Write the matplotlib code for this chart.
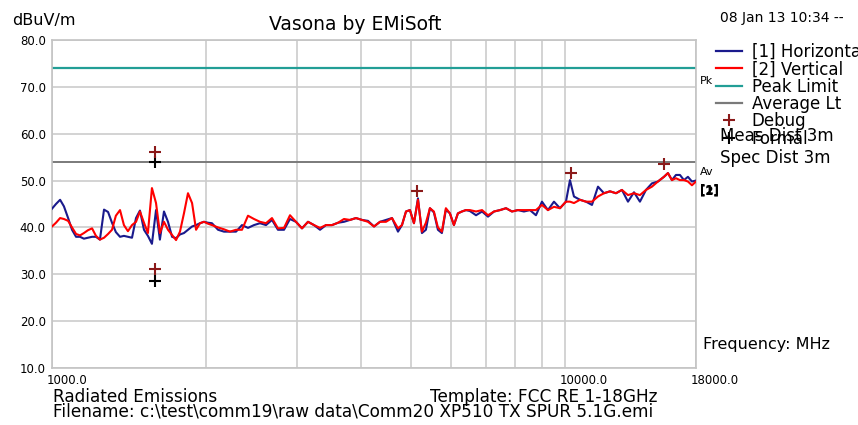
import matplotlib
matplotlib.use("Agg")
import matplotlib.pyplot as plt
from matplotlib.lines import Line2D
import matplotlib.transforms as mtransforms

# ---------------- data ----------------
freq_mhz = [1000, 1018, 1037, 1055, 1075, 1094, 1114, 1134, 1154, 1175, 1197, 1218, 1240,
            1263, 1286, 1309, 1332, 1357, 1381, 1406, 1432, 1458, 1484, 1511, 1538, 1566,
            1595, 1623, 1653, 1683, 1714, 1745, 1776, 1808, 1841, 1875, 1909, 1943, 1978,
            2014, 2050, 2107, 2164, 2223, 2284, 2346, 2410, 2476, 2543, 2613, 2684, 2757,
            2833, 2910, 2989, 3071, 3155, 3241, 3330, 3420, 3514, 3610, 3708, 3809, 3913,
            4020, 4130, 4243, 4358, 4477, 4600, 4725, 4810, 4898, 4985, 5076, 5168, 5261,
            5356, 5453, 5551, 5652, 5754, 5858, 5965, 6073, 6183, 6295, 6409, 6525, 6707,
            6890, 7077, 7271, 7469, 7673, 7880, 8093, 8316, 8543, 8776, 9016, 9262, 9515,
            9775, 10041, 10224, 10409, 10693, 10985, 11285, 11594, 11910, 12235, 12570,
            12910, 13265, 13627, 13996, 14380, 14770, 15174, 15589, 15870, 16158, 16450,
            16749, 17052, 17360, 17675, 18000]

horizontal_dbuv = [44.0, 45.0, 45.9, 44.5, 42.0, 39.5, 38.0, 38.0, 37.6, 37.8, 38.0, 38.0, 37.4,
                   43.8, 43.3, 41.0, 39.0, 38.0, 38.2, 38.0, 37.8, 42.0, 43.6, 39.5, 38.2, 36.5,
                   43.7, 37.4, 43.4, 41.2, 38.0, 37.7, 38.5, 38.8, 39.5, 40.2, 40.5, 40.9, 41.2,
                   41.0, 40.9, 39.5, 39.1, 39.1, 39.1, 40.5, 39.9, 40.5, 40.9, 40.5, 41.6, 39.5,
                   39.5, 41.8, 41.2, 39.8, 41.2, 40.5, 39.5, 40.5, 40.5, 41.0, 41.2, 41.6, 42.0,
                   41.6, 41.4, 40.2, 41.2, 41.6, 42.0, 39.1, 40.5, 43.4, 43.7, 40.9, 46.2, 38.8,
                   39.5, 44.1, 43.2, 39.5, 38.8, 43.8, 43.0, 40.5, 43.0, 43.4, 43.7, 43.5, 42.6,
                   43.4, 42.3, 43.4, 43.7, 44.1, 43.4, 43.7, 43.4, 43.7, 42.6, 45.5, 43.7, 45.5,
                   44.1, 45.5, 50.1, 46.6, 45.9, 45.5, 44.8, 48.7, 47.3, 47.7, 47.3, 48.0, 45.5,
                   47.5, 45.5, 48.0, 49.4, 49.8, 50.8, 51.6, 50.1, 51.2, 51.2, 50.1, 50.8, 49.8,
                   50.0]

vertical_dbuv = [40.2, 41.0, 42.0, 41.8, 41.4, 40.0, 38.6, 38.3, 38.8, 39.4, 39.8, 38.2, 37.4,
                 37.8, 38.6, 39.5, 42.5, 43.7, 40.5, 39.2, 40.5, 41.2, 43.4, 41.0, 38.8, 48.4,
                 45.2, 38.8, 41.2, 39.5, 38.4, 37.3, 39.1, 43.0, 47.3, 45.2, 39.5, 40.9, 41.2,
                 40.8, 40.5, 40.0, 39.6, 39.1, 39.5, 39.5, 42.5, 41.8, 41.2, 40.9, 42.0, 39.8,
                 39.9, 42.6, 41.2, 39.8, 41.2, 40.5, 39.9, 40.5, 40.5, 41.0, 41.8, 41.6, 42.0,
                 41.6, 41.2, 40.2, 41.2, 41.2, 42.0, 39.8, 40.5, 43.4, 43.7, 40.9, 45.9, 39.1,
                 41.0, 44.1, 43.4, 40.0, 39.1, 44.1, 43.0, 40.5, 43.0, 43.4, 43.7, 43.7, 43.4,
                 43.7, 42.6, 43.4, 43.7, 44.1, 43.4, 43.7, 43.7, 43.7, 43.7, 44.8, 43.7, 44.4,
                 44.1, 45.5, 45.5, 45.2, 45.9, 45.5, 45.5, 46.6, 47.3, 47.7, 47.3, 48.0, 46.9,
                 47.3, 46.9, 48.0, 48.7, 49.8, 50.8, 51.6, 50.1, 50.5, 50.1, 50.1, 49.8, 49.0,
                 49.8]

peak_limit = 74.0
average_limit = 54.0

debug_freq = [1588, 1588, 5150, 10280, 15620]
debug_dbuv = [56.2, 31.1, 47.8, 51.7, 53.5]
formal_freq = [1588, 1588]
formal_dbuv = [53.9, 28.6]

y_ticks = [10, 20, 30, 40, 50, 60, 70, 80]
y_tick_labels = ["10.0", "20.0", "30.0", "40.0", "50.0", "60.0", "70.0", "80.0"]
x_ticks = [1000, 2000, 3000, 4000, 5000, 6000, 7000, 8000, 9000, 10000, 18000]
x_tick_labels = ["1000.0", "", "", "", "", "", "", "", "", "10000.0", "18000.0"]

legend_labels = ["[1] Horizontal", "[2] Vertical", "Peak Limit", "Average Lt", "Debug", "Formal"]

# ---------------- colours ----------------
C_BLUE = "#1a1a8c"
C_RED = "#ff0000"
C_TEAL = "#229e96"
C_AVG = "#7a7a7a"
C_DEBUG = "#8b1a1a"
C_FORMAL = "#000000"
C_GRID = "#cccccc"

plt.rcParams["font.family"] = ["DejaVu Sans"]

W, H = 858, 425
fig = plt.figure(figsize=(W / 100, H / 100), dpi=100)
L, R, T, B = 52, 696, 40, 368
ax = fig.add_axes([L / W, 1 - B / H, (R - L) / W, (B - T) / H])

ax.set_xscale("log")
ax.set_xlim(1000, 18000)
ax.set_ylim(10, 80)
ax.set_xticks(x_ticks)
ax.set_xticklabels(x_tick_labels)
ax.xaxis.set_minor_locator(matplotlib.ticker.NullLocator())
ax.set_yticks(y_ticks)
ax.set_yticklabels(y_tick_labels)
ax.tick_params(axis="both", length=0, labelsize=8.5)
ax.tick_params(axis="y", pad=4.5)
ax.tick_params(axis="x", pad=4)
for lab in ax.get_xticklabels():
    lab.set_horizontalalignment("left")
    lab.set_transform(lab.get_transform() +
                      mtransforms.ScaledTranslation(-5 / 100, 0, fig.dpi_scale_trans))

ax.grid(True, color=C_GRID, linewidth=1.2)
ax.set_axisbelow(True)
for s in ax.spines.values():
    s.set_color("#c4c4c4")
    s.set_linewidth(1.2)

ax.axhline(peak_limit, color=C_TEAL, linewidth=1.6, zorder=2)
ax.axhline(average_limit, color=C_AVG, linewidth=1.4, zorder=2)

ax.plot(freq_mhz, horizontal_dbuv, color=C_BLUE, linewidth=1.5, zorder=3)
ax.plot(freq_mhz, vertical_dbuv, color=C_RED, linewidth=1.5, zorder=4)

ax.plot(formal_freq, formal_dbuv, linestyle="none", marker="+", markersize=9,
        markeredgewidth=1.5, color=C_FORMAL, zorder=5, clip_on=False)
ax.plot(debug_freq, debug_dbuv, linestyle="none", marker="+", markersize=9,
        markeredgewidth=1.5, color=C_DEBUG, zorder=6, clip_on=False)


def fx(px):
    return px / W


def fy(py):
    return 1 - py / H


# labels at the right edge of the plot
fig.text(fx(700), fy(81), "Pk", fontsize=8, va="center", ha="left")
fig.text(fx(700), fy(172), "Av", fontsize=8, va="center", ha="left")
fig.text(fx(700), fy(190), "[1]", fontsize=8.5, va="center", ha="left", fontweight="bold")
fig.text(fx(700), fy(191), "[2]", fontsize=8.5, va="center", ha="left", fontweight="bold")

# legend
handles = [
    Line2D([], [], color=C_BLUE, linewidth=1.6),
    Line2D([], [], color=C_RED, linewidth=1.6),
    Line2D([], [], color=C_TEAL, linewidth=1.6),
    Line2D([], [], color=C_AVG, linewidth=1.6),
    Line2D([], [], color=C_DEBUG, linestyle="none", marker="+", markersize=9, markeredgewidth=1.5),
    Line2D([], [], color=C_FORMAL, linestyle="none", marker="+", markersize=9, markeredgewidth=1.5),
]
fig.legend(handles, legend_labels, loc="upper left", bbox_to_anchor=(fx(716), fy(43)),
           frameon=False, fontsize=12, handlelength=1.55, handletextpad=0.6,
           borderpad=0, borderaxespad=0, labelspacing=-0.04)

fig.text(fx(720), fy(136), "Meas Dist 3m", fontsize=12, va="center", ha="left")
fig.text(fx(720), fy(158), "Spec Dist 3m", fontsize=12, va="center", ha="left")
fig.text(fx(703), fy(345), "Frequency: MHz", fontsize=11.5, va="center", ha="left")

# header
fig.text(fx(12), fy(21), "dBuV/m", fontsize=11.5, va="center", ha="left")
fig.text(fx(355), fy(25), "Vasona by EMiSoft", fontsize=13.5, va="center", ha="center")
fig.text(fx(720), fy(18), "08 Jan 13 10:34 --", fontsize=10, va="center", ha="left")

# footer
fig.text(fx(53), fy(397), "Radiated Emissions", fontsize=12.2, va="center", ha="left")
fig.text(fx(430), fy(397), "Template: FCC RE 1-18GHz", fontsize=12.2, va="center", ha="left")
fig.text(fx(53), fy(411), "Filename: c:\\test\\comm19\\raw data\\Comm20 XP510 TX SPUR 5.1G.emi",
         fontsize=12.2, va="center", ha="left")

fig.savefig("out.png", dpi=100)
